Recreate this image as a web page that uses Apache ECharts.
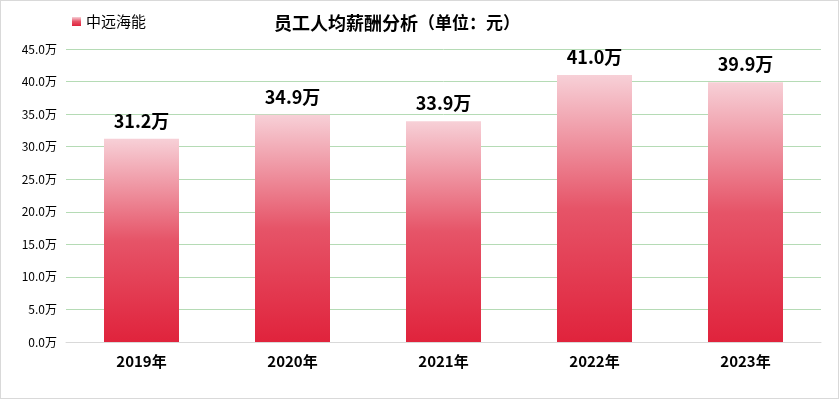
<!DOCTYPE html>
<html lang="zh">
<head>
    <meta charset="UTF-8">
    <title>员工人均薪酬分析</title>
    <script src="https://cdn.jsdelivr.net/npm/echarts@6/dist/echarts.min.js"></script>
    <style>
        html, body { margin: 0; padding: 0; background: #fff; }
        #chart { width: 837px; height: 397px; border: 1px solid #d9d9d9; }
    </style>
</head>
<body>
    <div id="chart"></div>
</body>
</html>
<script>
    var years = ['2019年', '2020年', '2021年', '2022年', '2023年'];
    var salary = [31.2, 34.9, 33.9, 41.0, 39.9];
    var seriesName = '中远海能';

    var font = '"Microsoft YaHei", "Noto Sans CJK SC", sans-serif';
    var redFill = {
        type: 'linear', x: 0, y: 0, x2: 0, y2: 1,
        colorStops: [
            { offset: 0, color: '#f7d0d7' },
            { offset: 0.5, color: '#e65468' },
            { offset: 1, color: '#e0233c' }
        ]
    };

    var chart = echarts.init(document.getElementById('chart'));
    chart.setOption({
        animation: false,
        textStyle: { fontFamily: font },
        title: {
            left: 268,
            top: 8,
            text: '{b|员工人均薪酬分析}{n|（单位：元）}',
            textStyle: {
                rich: {
                    b: { fontSize: 18, fontWeight: 'bold', color: '#000', fontFamily: font },
                    n: { fontSize: 17, color: '#000', fontFamily: font }
                }
            }
        },
        legend: {
            left: 71,
            top: 13,
            padding: 0,
            icon: 'rect',
            itemWidth: 9,
            itemHeight: 9,
            itemGap: 6,
            textStyle: { fontSize: 15, color: '#000', fontFamily: font, padding: [0, 0, 0, 0] },
            data: [seriesName]
        },
        grid: { left: 65, right: 17, top: 48, bottom: 56, containLabel: false },
        xAxis: {
            type: 'category',
            data: years,
            axisLine: { lineStyle: { color: '#d9d9d9' } },
            axisTick: { show: false },
            axisLabel: { fontSize: 15, fontWeight: 'bold', color: '#000', margin: 12 }
        },
        yAxis: {
            type: 'value',
            min: 0,
            max: 45,
            interval: 5,
            axisLine: { show: false },
            axisTick: { show: false },
            splitLine: { lineStyle: { color: '#b5dbb5' } },
            axisLabel: {
                fontSize: 12,
                color: '#000',
                margin: 9,
                formatter: function (v) { return v.toFixed(1) + '万'; }
            }
        },
        series: [{
            name: seriesName,
            type: 'bar',
            barWidth: 75,
            data: salary,
            itemStyle: { color: redFill },
            label: {
                show: true,
                position: 'top',
                distance: 9,
                fontSize: 18,
                fontWeight: 'bold',
                color: '#000',
                formatter: function (p) { return p.value.toFixed(1) + '万'; }
            }
        }]
    });
    window.onresize = chart.resize;
</script>
